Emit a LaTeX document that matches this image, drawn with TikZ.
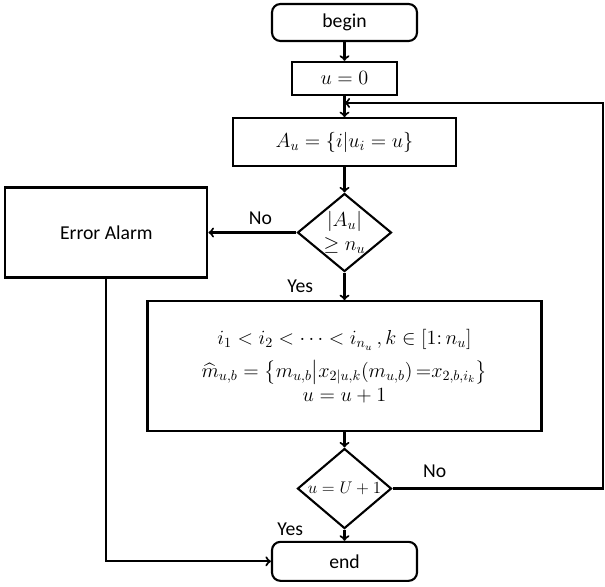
\documentclass[tikz,border=0pt]{standalone}
\usepackage{amsmath}
\usepackage{amssymb}
\usepackage{fontspec}
\setmainfont{Carlito}
\usepackage{tikz}
\usetikzlibrary{arrows,positioning,shapes.geometric}

\begin{document}
\begin{tikzpicture}[-,>=to,line width=1.5pt,
                    every node/.style={font=\fontsize{14}{17}\selectfont},
                    term node/.style={rectangle,rounded corners=6pt,draw,inner sep=0pt,
                                      minimum width=3.625cm,minimum height=0.925cm},
                    proc node/.style={rectangle,draw,inner sep=0pt},
                    dec node/.style={diamond,draw,inner sep=0pt,
                                     minimum width=2.35cm,minimum height=1.95cm}]
  \useasboundingbox (-8.6125,0.5625) rectangle (6.5125,-14.1125);

  \node[term node] (begin) {begin};
  \node[proc node,minimum width=2.625cm,minimum height=0.825cm] (init) [below=0.47cm of begin] {$u=0$};
  \node[proc node,minimum width=5.575cm,minimum height=1.2cm] (group) [below=0.53cm of init] {$A_u=\{i|u_i=u\}$};
  \node[dec node,aspect=1.2,align=center] (test) [below=0.63cm of group] {$|A_u|$\\$\geq n_u$};
  \node[proc node,minimum width=5.05cm,minimum height=2.25cm] (alarm) [left=2.2cm of test] {Error Alarm};
  \node[proc node,minimum width=9.85cm,minimum height=3.25cm,align=center] (update) [below=0.69cm of test]
    {$i_1<i_2<\cdots<i_{n_u}\,,k\in[1{:}\,n_u]$\\[6pt]
     $\widehat{m}_{u,b}=\bigl\{m_{u,b}\big|x_{2|u,k}(m_{u,b})\,{=}x_{2,b,i_k}\bigr\}$\\[0pt]
     $u=u+1$};
  \node[dec node,minimum height=2cm,inner sep=-3pt] (check) [below=0.38cm of update]
    {\fontsize{12}{14}\selectfont$u=U+1$};
  \node[term node,minimum height=0.975cm] (stop) [below=0.28cm of check] {end};

  \path (init.south) ++(0,-0.175) coordinate (merge);
  \coordinate (loop) at (6.47,0);

  \path[->]
    (begin) edge (init)
    (init) edge (group)
    (group) edge (test)
    (test) edge node [pos=0.41,above=1.7pt] {No} (alarm)
    (test) edge node [left=0.64cm] {Yes} (update)
    (update) edge (check)
    (check) edge node [pos=0,left=0.89cm] {Yes} (stop);

  \draw[->] (check.east) -- node [pos=0.2,above=0.136cm] {No} (check.east -| loop) |- (merge);
  \draw[->] (alarm.south) |- (stop.west);
\end{tikzpicture}
\end{document}
